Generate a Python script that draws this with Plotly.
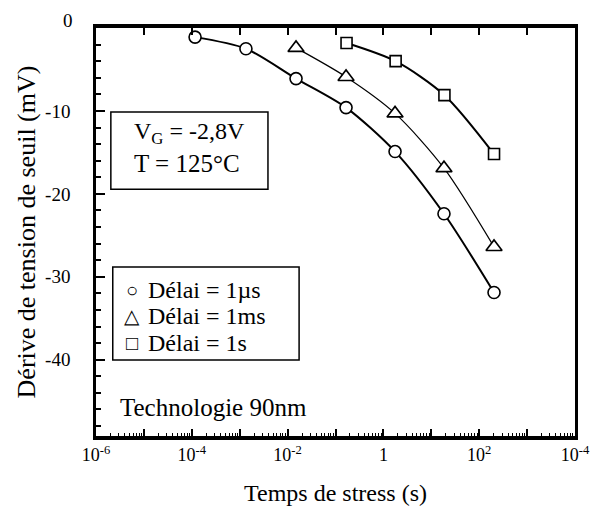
import plotly.graph_objects as go

# Stress time (s) and threshold-voltage drift (mV) for each recovery delay
t_1us = [1.17e-4, 1.35e-3, 1.5e-2, 0.166, 1.75, 18.4, 204]
dv_1us = [-1.1, -2.5, -6.1, -9.6, -14.9, -22.4, -31.9]
t_1ms = [1.5e-2, 0.166, 1.75, 18.4, 204]
dv_1ms = [-2.4, -5.9, -10.3, -16.9, -26.4]
t_1s = [0.17, 1.8, 18.8, 204]
dv_1s = [-1.8, -4.0, -8.1, -15.2]

legend_symbols = ["○", "△", "□"]
legend_labels = ["Délai = 1µs", "Délai = 1ms", "Délai = 1s"]

x_decades = [10.0 ** k for k in range(-6, 5)]
x_ticktext = ["10<sup>-6</sup>", "", "10<sup>-4</sup>", "", "10<sup>-2</sup>", "",
              "1", "", "10<sup>2</sup>", "", "10<sup>-4</sup>"]
x_minor = [m * 10.0 ** k for k in range(-6, 4) for m in range(2, 10)]
y_ticks = [-40, -30, -20, -10]
y_ticktext = ["-40", "-30", "-20", "-10"]
y_minor = list(range(-48, 0, 2))

FONT = "Liberation Serif"

fig = go.Figure()

series = [
    (t_1us, dv_1us, "circle", 12, 2.0),
    (t_1ms, dv_1ms, "triangle-up", 14, 1.2),
    (t_1s, dv_1s, "square", 11, 2.0),
]
for xs, ys, sym, size, lw in series:
    fig.add_trace(go.Scatter(
        x=xs, y=ys, mode="lines+markers",
        line=dict(color="black", width=lw, shape="spline", smoothing=0.8),
        marker=dict(symbol=sym, size=size, color="white",
                    line=dict(color="black", width=1.6)),
        showlegend=False, hoverinfo="skip",
    ))

# transparent trace so the top axis is instantiated
fig.add_trace(go.Scatter(x=t_1us, y=dv_1us, xaxis="x2", mode="markers",
                         marker=dict(opacity=0), showlegend=False, hoverinfo="skip"))

fig.update_layout(
    width=595, height=506,
    margin=dict(l=96, r=20, t=28, b=70),
    paper_bgcolor="white", plot_bgcolor="white",
    font=dict(family=FONT, color="black", size=18),
    xaxis=dict(
        type="log", range=[-6, 4], automargin=False,
        tickvals=x_decades, ticktext=x_ticktext,
        ticks="inside", ticklen=7, tickwidth=2, tickcolor="black",
        minor=dict(tickvals=x_minor, ticks="inside", ticklen=3, tickwidth=1.2, tickcolor="black"),
        showgrid=False, zeroline=False,
        showline=True, linecolor="black", linewidth=3.5, mirror=True,
        tickfont=dict(size=18), ticklabelstandoff=0,
        title=dict(text="Temps de stress (s)", font=dict(size=24), standoff=22),
    ),
    xaxis2=dict(
        type="log", range=[-6, 4], overlaying="x", side="top", anchor="y",
        tickvals=x_decades, ticks="inside", ticklen=7, tickwidth=2, tickcolor="black",
        showticklabels=False, showgrid=False, zeroline=False, showline=False,
    ),
    yaxis=dict(
        range=[-49.2, 0], automargin=False,
        tickvals=y_ticks, ticktext=y_ticktext,
        ticks="inside", ticklen=9, tickwidth=2, tickcolor="black",
        minor=dict(tickvals=y_minor, ticks="inside", ticklen=5, tickwidth=1.5, tickcolor="black"),
        showgrid=False, zeroline=False,
        showline=True, linecolor="black", linewidth=2.5, mirror=True,
        tickfont=dict(size=19), ticklabelstandoff=19,
        title=dict(text="Dérive de tension de seuil (mV)", font=dict(size=26), standoff=3),
    ),
)

# "0" label sits just above the top frame
fig.add_annotation(x=0, xref="paper", y=0, yref="y", text="0", showarrow=False,
                   xanchor="right", yanchor="middle", xshift=-21, yshift=8,
                   font=dict(size=19))

# conditions box
fig.add_shape(type="rect", xref="paper", yref="paper",
              x0=0.031, x1=0.359, y0=0.605, y1=0.794,
              line=dict(color="black", width=1.5), fillcolor="white", layer="below")
fig.add_annotation(x=0.075, y=0.743, xref="paper", yref="paper",
                   xanchor="left", yanchor="middle",
                   text="V<sub>G</sub> = -2,8V", showarrow=False, font=dict(size=24))
fig.add_annotation(x=0.075, y=0.667, xref="paper", yref="paper",
                   xanchor="left", yanchor="middle",
                   text="T = 125°C", showarrow=False, font=dict(size=25))

# legend box
fig.add_shape(type="rect", xref="paper", yref="paper",
              x0=0.035, x1=0.424, y0=0.186, y1=0.414,
              line=dict(color="black", width=1.5), fillcolor="white", layer="below")
for i, (s, lab) in enumerate(zip(legend_symbols, legend_labels)):
    yp = 0.358 - i * 0.065
    fig.add_annotation(x=0.075, y=yp, xref="paper", yref="paper",
                       xanchor="center", yanchor="middle",
                       text=s, showarrow=False, font=dict(size=20))
    fig.add_annotation(x=0.104, y=yp, xref="paper", yref="paper",
                       xanchor="left", yanchor="middle",
                       text=lab, showarrow=False, font=dict(size=24))

fig.add_annotation(x=0.046, y=0.071, xref="paper", yref="paper",
                   xanchor="left", yanchor="middle",
                   text="Technologie 90nm", showarrow=False, font=dict(size=25))

fig.write_html("out.html")
